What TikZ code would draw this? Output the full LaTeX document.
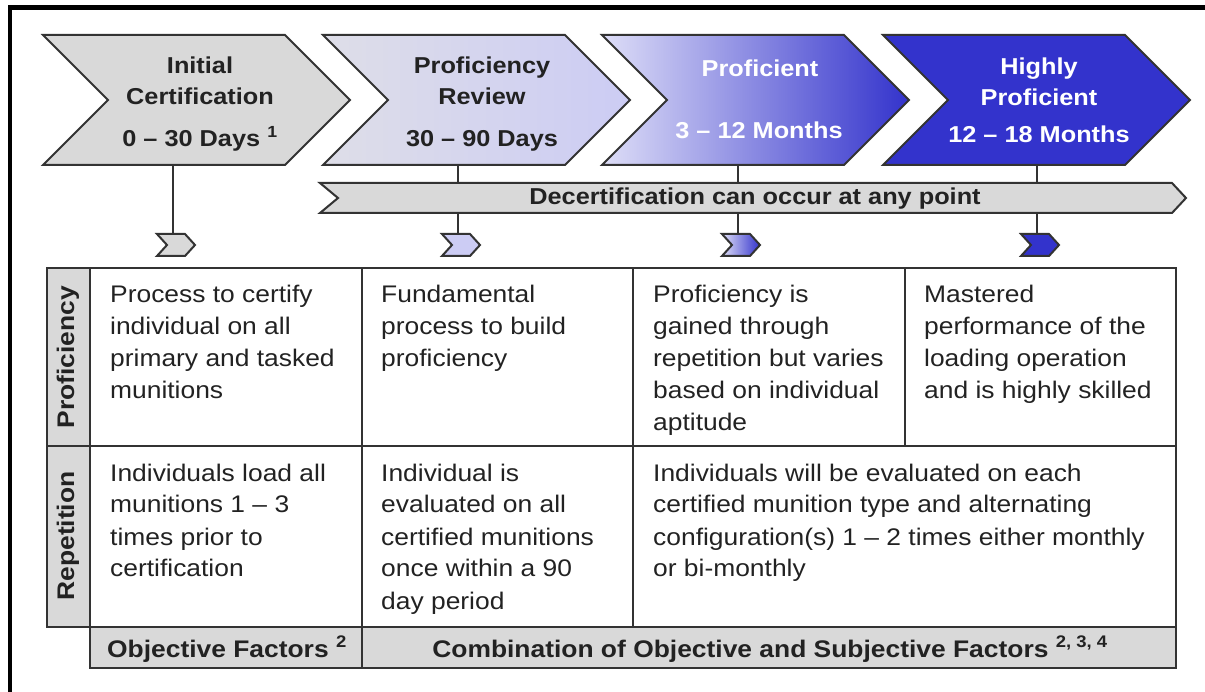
\documentclass[tikz,border=0pt]{standalone}
\usepackage{fontspec}
\setmainfont{Liberation Sans}[FakeStretch=1.1]
\definecolor{cgray}{RGB}{217,217,217}
\definecolor{cline}{RGB}{51,51,51}
\definecolor{cblue}{RGB}{51,51,204}
\definecolor{clavA}{RGB}{222,222,232}
\definecolor{clavB}{RGB}{204,204,244}
\definecolor{cpaleB}{RGB}{222,222,247}
\definecolor{ctext}{RGB}{34,34,34}
\newcommand\chevfont{\fontsize{23}{31}\selectfont\bfseries}
\newcommand\cellfont{\fontsize{24}{32}\selectfont}
\newcommand\labfont{\fontsize{24}{28}\selectfont\bfseries}
\newcommand\decfont{\fontsize{23}{28}\selectfont\bfseries}
\newcommand\footfont{\fontsize{24}{28}\selectfont\bfseries}
\newcommand\mlines[1]{\begin{tabular}[t]{@{}l@{}}#1\end{tabular}}
\newcommand\mcent[1]{\begin{tabular}[t]{@{}c@{}}#1\end{tabular}}
\begin{document}
\begin{tikzpicture}[x=1pt,y=-1pt,
  outl/.style={draw=cline, line width=2pt, line join=miter},
  tbl/.style={draw=cline, line width=2pt},
  conn/.style={draw=cline, line width=2pt},
  chevtxt/.style={inner sep=0, anchor=base, font=\chevfont, text=ctext},
  chevwhite/.style={chevtxt, text=white},
  celltxt/.style={inner sep=0, anchor=base west, font=\cellfont, text=ctext},
  labtxt/.style={inner sep=0, rotate=90, font=\labfont, text=ctext},
  foottxt/.style={inner sep=0, anchor=base, font=\footfont, text=ctext}]
\useasboundingbox (0,0) rectangle (1205,692);
\clip (0,0) rectangle (1205,692);
% outer frame
\draw[line width=4.5pt, black] (10,7.5) rectangle (1300,800);

% connector coordinates
\coordinate (b1) at (173,165); \coordinate (s1) at (173,234);
\coordinate (b2) at (458,165); \coordinate (s2) at (458,234);
\coordinate (b3) at (738,165); \coordinate (s3) at (738,234);
\coordinate (b4) at (1037,165); \coordinate (s4) at (1037,234);
\draw[conn] (b1) -- (s1);
\draw[conn] (b2) -- (s2);
\draw[conn] (b3) -- (s3);
\draw[conn] (b4) -- (s4);

% big chevrons
\path[outl, fill=cgray] (43,35) -- ++(242,0) -- ++(65,65) -- ++(-65,65) -- ++(-242,0) -- ++(65,-65) -- cycle;
\path[outl, left color=clavA, right color=clavB] (323,35) -- ++(242,0) -- ++(65,65) -- ++(-65,65) -- ++(-242,0) -- ++(65,-65) -- cycle;
\path[outl, left color=cpaleB, right color=cblue] (602,35) -- ++(242,0) -- ++(65,65) -- ++(-65,65) -- ++(-242,0) -- ++(65,-65) -- cycle;
\path[outl, fill=cblue] (883,35) -- ++(242,0) -- ++(65,65) -- ++(-65,65) -- ++(-242,0) -- ++(65,-65) -- cycle;

\node[chevtxt] (t1) at (200,74) {\mcent{Initial\\Certification}};
\node[chevtxt] (d1) at (200,147) {0 -- 30 Days \textsuperscript{1}};
\node[chevtxt] (t2) at (482,74) {\mcent{Proficiency\\Review}};
\node[chevtxt] (d2) at (482,147) {30 -- 90 Days};
\node[chevwhite] (t3) at (760,77) {Proficient};
\node[chevwhite] (d3) at (759,139) {3 -- 12 Months};
\node[chevwhite] (t4) at (1039,75) {\mcent{Highly\\Proficient}};
\node[chevwhite] (d4) at (1039,143) {12 -- 18 Months};

% decertification bar
\path[outl, fill=cgray] (320,183) -- (1172,183) -- (1186,198) -- (1172,213) -- (320,213) -- (338,198) -- cycle;
\node[inner sep=0, anchor=base, font=\decfont, text=ctext] (dec) at (755,205) {Decertification can occur at any point};

% small chevrons
\path[outl, fill=cgray] (157,234) -- ++(28,0) -- ++(10,11) -- ++(-10,11) -- ++(-28,0) -- ++(10,-11) -- cycle;
\path[outl, fill=clavB] (442,234) -- ++(28,0) -- ++(10,11) -- ++(-10,11) -- ++(-28,0) -- ++(10,-11) -- cycle;
\path[outl, left color=cpaleB, right color=cblue] (722,234) -- ++(28,0) -- ++(10,11) -- ++(-10,11) -- ++(-28,0) -- ++(10,-11) -- cycle;
\path[outl, fill=cblue] (1021,234) -- ++(28,0) -- ++(10,11) -- ++(-10,11) -- ++(-28,0) -- ++(10,-11) -- cycle;

% table
\fill[cgray] (47,268) rectangle (90,627);
\fill[cgray] (90,627) rectangle (1176,668);
\draw[tbl] (47,268) rectangle (1176,627);
\draw[tbl] (90,268) -- (90,668) -- (1176,668) -- (1176,627);
\draw[tbl] (47,446) -- (1176,446);
\draw[tbl] (362,268) -- (362,668);
\draw[tbl] (633,268) -- (633,627);
\draw[tbl] (905,268) -- (905,446);

\node[labtxt] (lp) at (68,357) {Proficiency};
\node[labtxt] (lr) at (68,536) {Repetition};

\node[celltxt] (p1) at (110,303) {\mlines{Process to certify\\individual on all\\primary and tasked\\munitions}};
\node[celltxt] (p2) at (381,303) {\mlines{Fundamental\\process to build\\proficiency}};
\node[celltxt] (p3) at (653,303) {\mlines{Proficiency is\\gained through\\repetition but varies\\based on individual\\aptitude}};
\node[celltxt] (p4) at (924,303) {\mlines{Mastered\\performance of the\\loading operation\\and is highly skilled}};

\node[celltxt] (r1) at (110,481) {\mlines{Individuals load all\\munitions 1 -- 3\\times prior to\\certification}};
\node[celltxt] (r2) at (381,481) {\mlines{Individual is\\evaluated on all\\certified munitions\\once within a 90\\day period}};
\node[celltxt] (r3) at (653,481) {\mlines{Individuals will be evaluated on each\\certified munition type and alternating\\configuration(s) 1 -- 2 times either monthly\\or bi-monthly}};

\node[foottxt] (f1) at (227,657) {Objective Factors \textsuperscript{2}};
\node[foottxt] (f2) at (770,657) {Combination of Objective and Subjective Factors \textsuperscript{2, 3, 4}};
\end{tikzpicture}
\end{document}
